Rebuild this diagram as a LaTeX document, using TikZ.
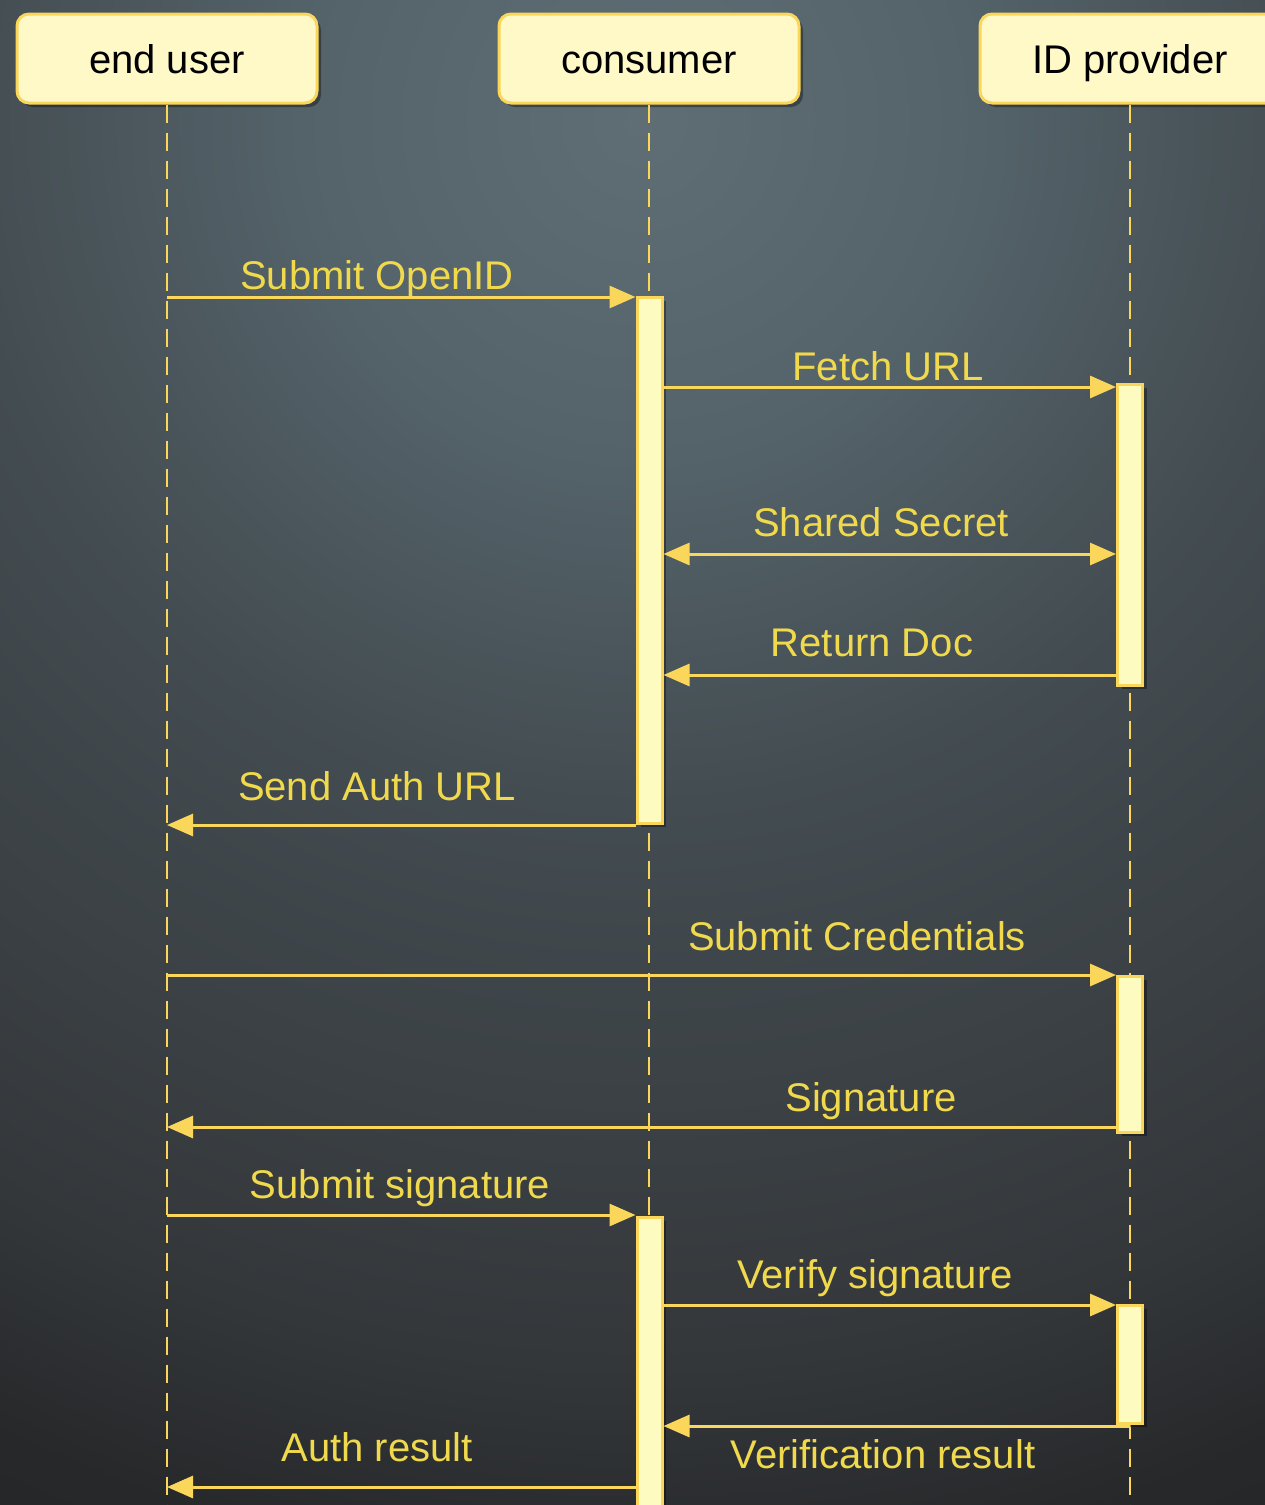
\documentclass[tikz,border=0pt]{standalone}
\usepackage{fontspec}
\setmainfont{Liberation Sans}
\usetikzlibrary{arrows.meta,shadows}

\definecolor{lineY}{HTML}{FAD75A}
\definecolor{textY}{HTML}{F0D94C}
\definecolor{boxF}{HTML}{FEF9C7}
\definecolor{actF}{HTML}{FDFBC0}
\definecolor{bgA}{HTML}{5F6E75}
\definecolor{bgB}{HTML}{55646B}
\definecolor{bgC}{HTML}{434C51}
\definecolor{bgD}{HTML}{34373A}
\definecolor{bgE}{HTML}{26282A}
\definecolor{bgF}{HTML}{212325}
% glow centred near the top; 25bp is the rim of the shaded circle
\pgfdeclareradialshading{bgglow}{\pgfpoint{0bp}{0bp}}%
  {color(0bp)=(bgA); color(4.4bp)=(bgB); color(9.5bp)=(bgC);
   color(17.3bp)=(bgD); color(20.3bp)=(bgE); color(25bp)=(bgF); color(50bp)=(bgF)}

\begin{document}
\begin{tikzpicture}[x=1pt,y=-1pt,
  softshadow/.style={drop shadow={shadow xshift=4pt,shadow yshift=-4pt,opacity=0.35,fill=black}},
  head/.style={draw=lineY, fill=boxF, line width=3pt, rounded corners=12pt,
    minimum width=300pt, minimum height=89pt, inner sep=0pt,
    text height=29pt, text depth=0pt, text=black,
    font=\fontsize{40}{48}\selectfont, softshadow},
  life/.style={draw=lineY, line width=2.5pt, dash pattern=on 18pt off 10pt},
  act/.style={draw=lineY, fill=actF, line width=3pt, minimum width=25pt,
    inner sep=0pt, softshadow},
  msg/.style={draw=lineY, line width=3pt, -{Triangle[length=26pt,width=22pt]}},
  bimsg/.style={draw=lineY, line width=3pt,
    {Triangle[length=26pt,width=22pt]}-{Triangle[length=26pt,width=22pt]}},
  lbl/.style={text=textY, anchor=base, inner sep=0pt,
    font=\fontsize{40}{48}\selectfont}]

\useasboundingbox (0,0) rectangle (1264,1505);
\clip (-6,-6) rectangle (1270,1511);

% backdrop
\fill[bgF] (-6,-6) rectangle (1270,1511);
\shade[shading=bgglow] (640,120) circle[radius=1800pt];

% participants
\node[head] (eu) at (167,58.5) {end user};
\node[head] (co) at (649,58.5) {consumer};
\node[head] (ip) at (1130,58.5) {ID provider};

% lifelines
\draw[life] (eu.south) -- (eu.south |- 0,1510);
\draw[life] (co.south) -- (co.south |- 0,1510);
\draw[life] (ip.south) -- (ip.south |- 0,1510);

% activation bars
\node[act, minimum height=526pt] (c1) at (649.5,560) {};
\node[act, minimum height=301pt] (p1) at (1130,534.5) {};
\node[act, minimum height=156pt] (p2) at (1130,1054) {};
\node[act, minimum height=310pt] (c2) at (649.5,1372) {};
\node[act, minimum height=118pt] (p3) at (1130,1364) {};

% message levels
\coordinate (m1) at (0,297);
\coordinate (m2) at (0,387);
\coordinate (m3) at (0,554);
\coordinate (m4) at (0,675);
\coordinate (m5) at (0,825);
\coordinate (m6) at (0,975);
\coordinate (m7) at (0,1127);
\coordinate (m8) at (0,1215);
\coordinate (m9) at (0,1305);
\coordinate (m10) at (0,1426);
\coordinate (m11) at (0,1487);

% messages
\draw[msg]   (eu.south |- m1) -- (c1.west |- m1);
\draw[msg]   (c1.east |- m2) -- (p1.west |- m2);
\draw[bimsg] (c1.east |- m3) -- (p1.west |- m3);
\draw[msg]   (p1.west |- m4) -- (c1.east |- m4);
\draw[msg]   (c1.west |- m5) -- (eu.south |- m5);
\draw[msg]   (eu.south |- m6) -- (p2.west |- m6);
\draw[msg]   (p2.west |- m7) -- (eu.south |- m7);
\draw[msg]   (eu.south |- m8) -- (c2.west |- m8);
\draw[msg]   (c2.east |- m9) -- (p3.west |- m9);
\draw[msg]   (ip.south |- m10) -- (c2.east |- m10);
\draw[msg]   (c2.west |- m11) -- (eu.south |- m11);

% message labels
\node[lbl] (t1) at (377,289) {Submit OpenID};
\node[lbl] (t2) at (888,380) {Fetch URL};
\node[lbl] (t3) at (881,536) {Shared Secret};
\node[lbl] (t4) at (872,656) {Return Doc};
\node[lbl] (t5) at (377,800) {Send Auth URL};
\node[lbl] (t6) at (857,950) {Submit Credentials};
\node[lbl] (t7) at (871,1111) {Signature};
\node[lbl] (t8) at (400,1198) {Submit signature};
\node[lbl] (t9) at (875,1288) {Verify signature};
\node[lbl] (t10) at (883,1468) {Verification result};
\node[lbl] (t11) at (377,1461) {Auth result};
\end{tikzpicture}
\end{document}
